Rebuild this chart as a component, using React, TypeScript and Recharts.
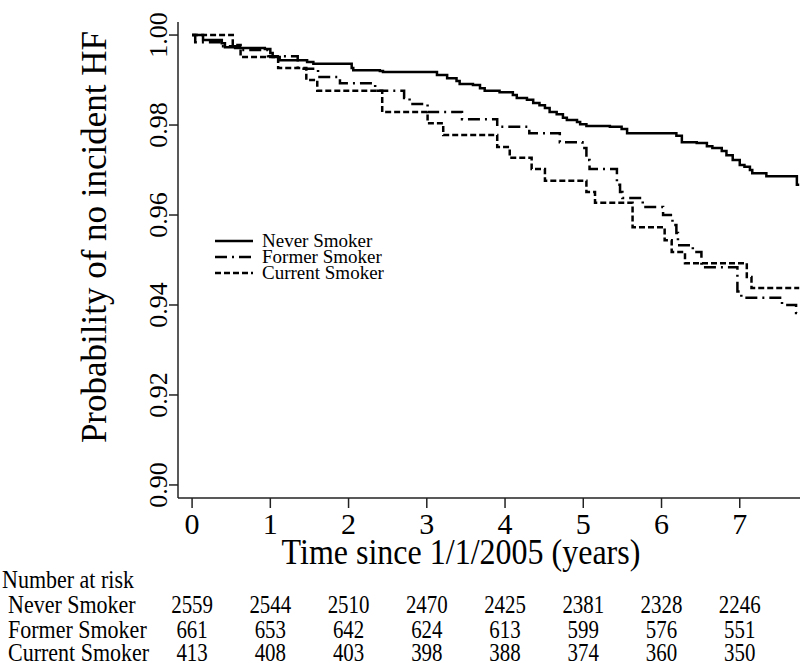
import React from 'react';
import { LineChart, Line, XAxis, YAxis, Legend } from 'recharts';

// years since 1/1/2005 and Kaplan-Meier survival
const neverTime = [0, 0.14, 0.38, 0.42, 0.55, 0.93, 1.0, 1.03, 1.12, 1.47, 1.55, 2.04, 2.06, 2.4, 2.44, 3.13, 3.26, 3.38, 3.42, 3.59, 3.68, 3.74, 3.93, 4.1, 4.15, 4.28, 4.36, 4.44, 4.51, 4.57, 4.66, 4.74, 4.79, 4.92, 4.96, 5.04, 5.34, 5.49, 5.56, 6.19, 6.26, 6.45, 6.58, 6.65, 6.77, 6.83, 6.91, 7.0, 7.06, 7.13, 7.16, 7.34, 7.73, 7.76];
const neverSurv = [1.0, 0.9989, 0.9982, 0.9973, 0.9971, 0.9969, 0.996, 0.9951, 0.9944, 0.994, 0.9936, 0.9927, 0.9922, 0.992, 0.9918, 0.9911, 0.9904, 0.9898, 0.9891, 0.9889, 0.9882, 0.9876, 0.9873, 0.9867, 0.986, 0.9856, 0.9849, 0.9844, 0.9838, 0.9829, 0.9824, 0.9816, 0.9811, 0.9807, 0.9802, 0.9798, 0.9796, 0.9791, 0.9782, 0.9776, 0.9762, 0.976, 0.9753, 0.9749, 0.9742, 0.9733, 0.9722, 0.9711, 0.9707, 0.97, 0.9693, 0.9686, 0.9667, 0.9667];

const formerTime = [0, 0.04, 0.38, 0.61, 0.97, 1.35, 1.61, 1.89, 2.34, 2.71, 2.78, 3.01, 3.45, 3.9, 4.31, 4.7, 4.99, 5.04, 5.08, 5.43, 5.47, 5.5, 5.76, 6.02, 6.14, 6.19, 6.21, 6.4, 6.51, 6.97, 7.02, 7.54, 7.72, 7.76];
const formerSurv = [1.0, 0.9984, 0.9975, 0.9967, 0.9953, 0.9925, 0.9907, 0.9893, 0.9876, 0.986, 0.9847, 0.9829, 0.9813, 0.9796, 0.9782, 0.9762, 0.9749, 0.9722, 0.9702, 0.9667, 0.9651, 0.9638, 0.9618, 0.96, 0.9578, 0.956, 0.9533, 0.9518, 0.9484, 0.943, 0.9416, 0.94, 0.9382, 0.9382];

const currentTime = [0, 0.52, 0.62, 1.1, 1.46, 1.6, 2.43, 3.01, 3.21, 3.9, 4.06, 4.34, 4.51, 5.04, 5.15, 5.63, 6.04, 6.13, 6.3, 7.09, 7.15, 7.76];
const currentSurv = [1.0, 0.9978, 0.9951, 0.9927, 0.99, 0.9876, 0.9829, 0.9804, 0.9778, 0.9751, 0.9727, 0.9702, 0.9676, 0.9651, 0.9627, 0.9573, 0.9544, 0.9518, 0.9493, 0.9462, 0.9438, 0.9438];

const timeTicks = [0, 1, 2, 3, 4, 5, 6, 7];
const survTicks = [0.9, 0.92, 0.94, 0.96, 0.98, 1.0];

const groupNames = ['Never Smoker', 'Former Smoker', 'Current Smoker'];
const riskNever = [2559, 2544, 2510, 2470, 2425, 2381, 2328, 2246];
const riskFormer = [661, 653, 642, 624, 613, 599, 576, 551];
const riskCurrent = [413, 408, 403, 398, 388, 374, 360, 350];

const toPoints = (t: number[], s: number[]) => t.map((x, i) => ({ t: x, s: s[i] }));
const neverData = toPoints(neverTime, neverSurv);
const formerData = toPoints(formerTime, formerSurv);
const currentData = toPoints(currentTime, currentSurv);

const serif = '"Liberation Serif", "Times New Roman", serif';
const dashes = ['', '12 5 2 5', '6 3'];
const riskRows = [riskNever, riskFormer, riskCurrent];
const rowCentres = [605, 629.5, 653];

const TimeTick = (props: any) => {
  const { x, y, payload, index } = props;
  return (
    <g>
      <text x={x} y={y + 24} textAnchor="middle" fontSize={30} fontFamily={serif} fill="#000">
        {payload.value}
      </text>
      {riskRows.map((row, r) => (
        <text
          key={r}
          transform={`translate(${x}, ${rowCentres[r] - 510 + y + 8}) scale(0.95, 1.1)`}
          textAnchor="middle"
          fontSize={22}
          fontFamily={serif}
          fill="#000"
        >
          {row[index]}
        </text>
      ))}
    </g>
  );
};

const SurvTick = (props: any) => {
  const { x, y, payload } = props;
  return (
    <text x={x} y={y} transform={`rotate(-90, ${x}, ${y})`} textAnchor="middle" fontSize={26} fontFamily={serif} fill="#000">
      {payload.value.toFixed(2)}
    </text>
  );
};

const KeyBox = () => (
  <div style={{ fontFamily: serif, fontSize: 19, lineHeight: '16px', color: '#000' }}>
    {groupNames.map((name, i) => (
      <div key={name} style={{ display: 'flex', alignItems: 'center', height: 16 }}>
        <svg width={50} height={16}>
          <line x1={3} x2={41} y1={8} y2={8} stroke="#000" strokeWidth={2.5} strokeDasharray={dashes[i] || undefined} />
        </svg>
        <span>{name}</span>
      </div>
    ))}
  </div>
);

const App = () => {
  return (
    <div style={{ position: 'absolute', left: 0, top: 0, width: 800, height: 663, background: '#fff', fontFamily: serif, overflow: 'hidden' }}>
      <LineChart width={800} height={663} margin={{ top: 22, right: 0, bottom: 0, left: 0 }}>
        <XAxis
          type="number"
          dataKey="t"
          domain={[-0.18, 7.77]}
          ticks={timeTicks}
          interval={0}
          allowDataOverflow
          height={165}
          tickSize={10}
          tickMargin={2}
          tick={<TimeTick />}
          tickLine={{ stroke: '#222', strokeWidth: 1.5 }}
          axisLine={{ stroke: '#222', strokeWidth: 1.5 }}
        />
        <YAxis
          type="number"
          domain={[0.8971, 1.0029]}
          ticks={survTicks}
          interval={0}
          allowDataOverflow
          width={178}
          tickSize={9}
          tickMargin={2}
          tick={<SurvTick />}
          tickLine={{ stroke: '#222', strokeWidth: 1.5 }}
          axisLine={{ stroke: '#222', strokeWidth: 1.5 }}
        />
        <Legend
          layout="horizontal"
          verticalAlign="middle"
          align="center"
          content={<KeyBox />}
          wrapperStyle={{ position: 'absolute', left: 212, top: 233, width: 220 }}
        />
        <Line data={neverData} dataKey="s" type="stepAfter" stroke="#000" strokeWidth={2.5} dot={false} isAnimationActive={false} />
        <Line data={formerData} dataKey="s" type="stepAfter" stroke="#000" strokeWidth={2.5} strokeDasharray={dashes[1]} dot={false} isAnimationActive={false} />
        <Line data={currentData} dataKey="s" type="stepAfter" stroke="#000" strokeWidth={2.5} strokeDasharray={dashes[2]} dot={false} isAnimationActive={false} />
      </LineChart>

      <div style={{ position: 'absolute', left: 94, top: 237, transform: 'translate(-50%, -50%) rotate(-90deg)', whiteSpace: 'nowrap', fontSize: 35, lineHeight: 1 }}>
        Probability of no incident HF
      </div>
      <div style={{ position: 'absolute', left: 461, top: 552, transform: 'translate(-50%, -50%) scaleY(1.1)', whiteSpace: 'nowrap', fontSize: 32, lineHeight: 1 }}>
        Time since 1/1/2005 (years)
      </div>
      <div style={{ position: 'absolute', left: 2, top: 580, transform: 'translateY(-50%) scaleY(1.1)', transformOrigin: 'left center', whiteSpace: 'nowrap', fontSize: 22, lineHeight: 1 }}>
        Number at risk
      </div>
      {groupNames.map((name, i) => (
        <div key={name} style={{ position: 'absolute', left: 8, top: rowCentres[i], transform: 'translateY(-50%) scaleY(1.1)', transformOrigin: 'left center', whiteSpace: 'nowrap', fontSize: 22, lineHeight: 1 }}>
          {name}
        </div>
      ))}
    </div>
  );
};

export default App;
